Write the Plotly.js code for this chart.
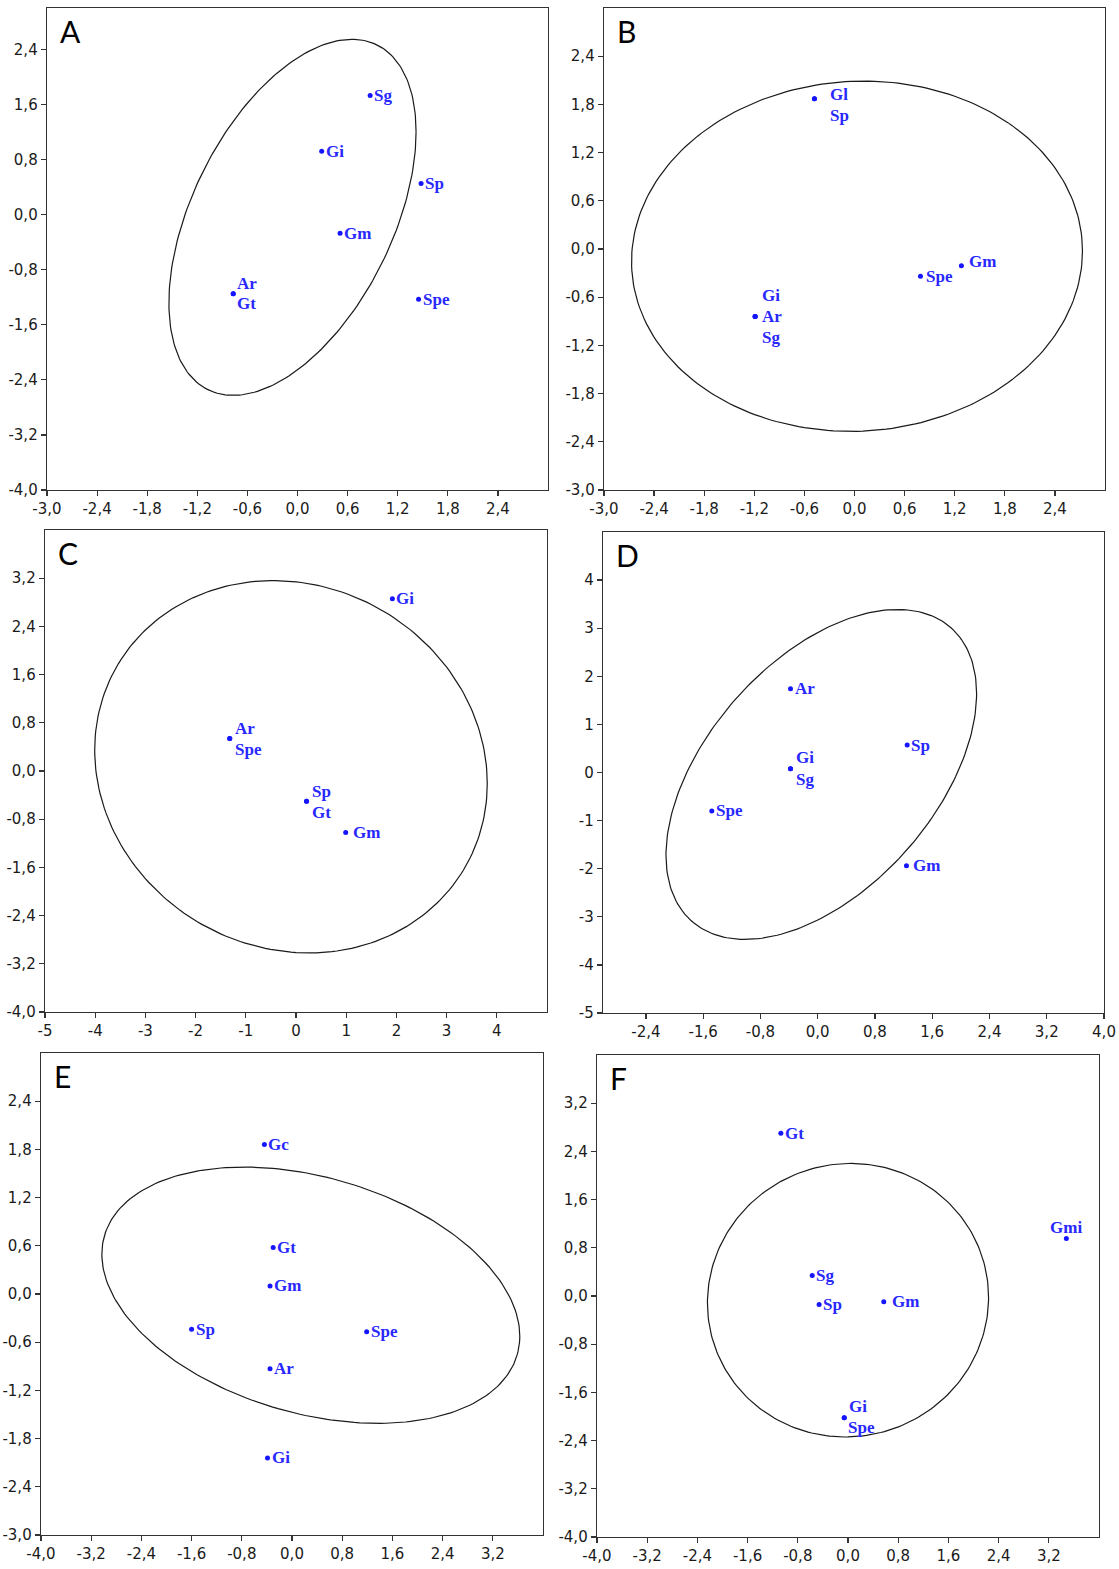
<!DOCTYPE html>
<html>
<head>
<meta charset="utf-8">
<script src="https://cdn.plot.ly/plotly-3.0.1.min.js"></script>
<style>html,body{margin:0;padding:0;background:#fff;}#chart{width:1119px;height:1569px;}</style>
</head>
<body>
<div id="chart"></div>
<script>
// ---------- DATA ----------
// Panel A
const namesA = ['Sg','Gi','Sp','Gm','Ar','Gt','Spe'];
const xA = [0.87, 0.29, 1.48, 0.51, -0.77, -0.77, 1.45];
const yA = [1.73, 0.92, 0.45, -0.27, -1.15, -1.15, -1.23];
const ellA = [-0.06, -0.04, 1.48, 2.585, 0.48]; // cx, cy, half-width, half-height, corr
const xTicksA = ['-3,0','-2,4','-1,8','-1,2','-0,6','0,0','0,6','1,2','1,8','2,4'];
const yTicksA = ['-4,0','-3,2','-2,4','-1,6','-0,8','0,0','0,8','1,6','2,4'];

// Panel B
const namesB = ['Gl','Sp','Gm','Spe','Gi','Ar','Sg'];
const xB = [-0.48, -0.48, 1.28, 0.79, -1.19, -1.19, -1.19];
const yB = [1.87, 1.87, -0.21, -0.34, -0.84, -0.84, -0.84];
const ellB = [0.03, -0.09, 2.70, 2.18, 0.03];
const xTicksB = ['-3,0','-2,4','-1,8','-1,2','-0,6','0,0','0,6','1,2','1,8','2,4'];
const yTicksB = ['-3,0','-2,4','-1,8','-1,2','-0,6','0,0','0,6','1,2','1,8','2,4'];

// Panel C
const namesC = ['Gi','Ar','Spe','Sp','Gt','Gm'];
const xC = [1.92, -1.32, -1.32, 0.21, 0.21, 0.99];
const yC = [2.86, 0.54, 0.54, -0.50, -0.50, -1.02];
const ellC = [-0.10, 0.07, 3.91, 3.09, -0.09];
const xTicksC = ['-5','-4','-3','-2','-1','0','1','2','3','4'];
const yTicksC = ['-4,0','-3,2','-2,4','-1,6','-0,8','0,0','0,8','1,6','2,4','3,2'];

// Panel D
const namesD = ['Ar','Gi','Sg','Sp','Spe','Gm'];
const xD = [-0.38, -0.38, -0.38, 1.25, -1.48, 1.24];
const yD = [1.74, 0.08, 0.08, 0.57, -0.80, -1.94];
const ellD = [0.05, -0.04, 2.17, 3.43, 0.49];
const xTicksD = ['-2,4','-1,6','-0,8','0,0','0,8','1,6','2,4','3,2','4,0'];
const yTicksD = ['-5','-4','-3','-2','-1','0','1','2','3','4'];

// Panel E
const namesE = ['Gc','Gt','Gm','Sp','Spe','Ar','Gi'];
const xE = [-0.44, -0.30, -0.35, -1.60, 1.19, -0.35, -0.39];
const yE = [1.86, 0.58, 0.10, -0.44, -0.47, -0.93, -2.04];
const ellE = [0.30, -0.015, 3.33, 1.595, -0.32];
const xTicksE = ['-4,0','-3,2','-2,4','-1,6','-0,8','0,0','0,8','1,6','2,4','3,2'];
const yTicksE = ['-3,0','-2,4','-1,8','-1,2','-0,6','0,0','0,6','1,2','1,8','2,4'];

// Panel F
const namesF = ['Gt','Gmi','Sg','Sp','Gm','Gi','Spe'];
const xF = [-1.07, 3.48, -0.57, -0.46, 0.57, -0.06, -0.06];
const yF = [2.70, 0.955, 0.34, -0.14, -0.095, -2.02, -2.02];
const ellF = [0.0, -0.07, 2.24, 2.27, 0.02];
const xTicksF = ['-4,0','-3,2','-2,4','-1,6','-0,8','0,0','0,8','1,6','2,4','3,2'];
const yTicksF = ['-4,0','-3,2','-2,4','-1,6','-0,8','0,0','0,8','1,6','2,4','3,2'];

const panelLetters = ['A','B','C','D','E','F'];

// ---------- STYLE / LAYOUT ----------
const W = 1119, H = 1569;
// label offsets in px [dx, dy(up)], per point
const offA = [[4,0],[4,0],[4,0],[4,0],[4,10],[4,-10],[4,0]];
const offB = [[16,4],[16,-17],[8,4],[6,0],[7,21],[7,0],[7,-21]];
const offC = [[4,0],[5,10],[5,-11],[5,10],[5,-11],[7,0]];
const offD = [[4,0],[5,11],[5,-11],[4,0],[4,0],[7,0]];
const offE = [[4,0],[4,0],[4,0],[4,0],[4,0],[4,0],[4,0]];
const offF = [[4,0],[null,11],[4,0],[4,0],[8,0],[5,11],[4,-10]];

// plot-area pixel boxes [left, right, top, bottom] and ranges
const boxes = [
  [47, 548, 8, 490],
  [604, 1105, 8, 490],
  [45, 547, 530, 1012],
  [603, 1104, 532, 1013],
  [41, 543, 1053, 1535],
  [597, 1099, 1055, 1537]
];
const xRanges = [[-3,3],[-3,3],[-5,5],[-3,4],[-4,4],[-4,4]];
const yRanges = [[-4,3],[-3,3],[-4,4],[-5,5],[-3,3],[-4,4]];

const panels = [
  {n:namesA,x:xA,y:yA,e:ellA,xt:xTicksA,yt:yTicksA,o:offA},
  {n:namesB,x:xB,y:yB,e:ellB,xt:xTicksB,yt:yTicksB,o:offB},
  {n:namesC,x:xC,y:yC,e:ellC,xt:xTicksC,yt:yTicksC,o:offC},
  {n:namesD,x:xD,y:yD,e:ellD,xt:xTicksD,yt:yTicksD,o:offD},
  {n:namesE,x:xE,y:yE,e:ellE,xt:xTicksE,yt:yTicksE,o:offE},
  {n:namesF,x:xF,y:yF,e:ellF,xt:xTicksF,yt:yTicksF,o:offF}
];

function ellipse(p) {
  const [cx, cy, hw, hh, r] = p;
  const xs = [], ys = [];
  const s = Math.sqrt(1 - r*r);
  for (let i = 0; i <= 240; i++) {
    const t = 2*Math.PI*i/240;
    xs.push(cx + hw*Math.cos(t));
    ys.push(cy + hh*(r*Math.cos(t) + s*Math.sin(t)));
  }
  return [xs, ys];
}
const num = s => parseFloat(s.replace(',', '.'));

const data = [];
const layout = {
  width: W, height: H,
  margin: {l:0, r:0, t:0, b:0},
  paper_bgcolor: '#fff', plot_bgcolor: '#fff',
  showlegend: false,
  font: {family: 'DejaVu Sans, sans-serif', size: 15, color: '#1a1a1a'},
  annotations: []
};
const labelFont = {family: 'Liberation Serif, serif', size: 17, color: '#2828ff', weight: 'bold'};

panels.forEach((p, i) => {
  const k = i === 0 ? '' : String(i+1);
  const xa = 'x' + k, ya = 'y' + k;
  const [l, r, t, b] = boxes[i];
  const [ex, ey] = ellipse(p.e);
  data.push({x: ex, y: ey, xaxis: xa, yaxis: ya, mode: 'lines', type: 'scatter',
    line: {color: '#1a1a1a', width: 1.2}, hoverinfo: 'skip'});
  data.push({x: p.x, y: p.y, xaxis: xa, yaxis: ya, mode: 'markers', type: 'scatter',
    marker: {color: '#1515ff', size: 5}, hoverinfo: 'skip'});
  const axCommon = {showgrid: false, zeroline: false, showline: true, mirror: true,
    linecolor: '#333', linewidth: 1.3, ticks: 'outside', ticklen: 5, tickcolor: '#333',
    tickwidth: 1.2, tickmode: 'array', fixedrange: true,
    tickfont: {family: 'DejaVu Sans, sans-serif', size: 15, color: '#1a1a1a'}};
  layout['xaxis' + k] = Object.assign({}, axCommon, {
    domain: [l/W, r/W], range: xRanges[i], anchor: ya,
    tickvals: p.xt.map(num), ticktext: p.xt});
  layout['yaxis' + k] = Object.assign({}, axCommon, {
    domain: [1 - b/H, 1 - t/H], range: yRanges[i], anchor: xa,
    tickvals: p.yt.map(num), ticktext: p.yt});
  p.n.forEach((name, j) => {
    const off = p.o[j];
    const centered = off[0] === null;
    layout.annotations.push({
      x: p.x[j], y: p.y[j], xref: xa, yref: ya, text: name, showarrow: false,
      xanchor: centered ? 'center' : 'left', yanchor: 'middle',
      xshift: centered ? 0 : off[0], yshift: off[1],
      font: labelFont, borderpad: 0, borderwidth: 0
    });
  });
  layout.annotations.push({
    x: (l + 13)/W, y: 1 - (t + 5)/H, xref: 'paper', yref: 'paper',
    text: panelLetters[i], showarrow: false, xanchor: 'left', yanchor: 'top',
    font: {family: 'Lato, Open Sans, sans-serif', size: 30, color: '#000'},
    borderpad: 0, borderwidth: 0
  });
});

Plotly.newPlot('chart', data, layout, {staticPlot: true});
</script>
</body>
</html>
